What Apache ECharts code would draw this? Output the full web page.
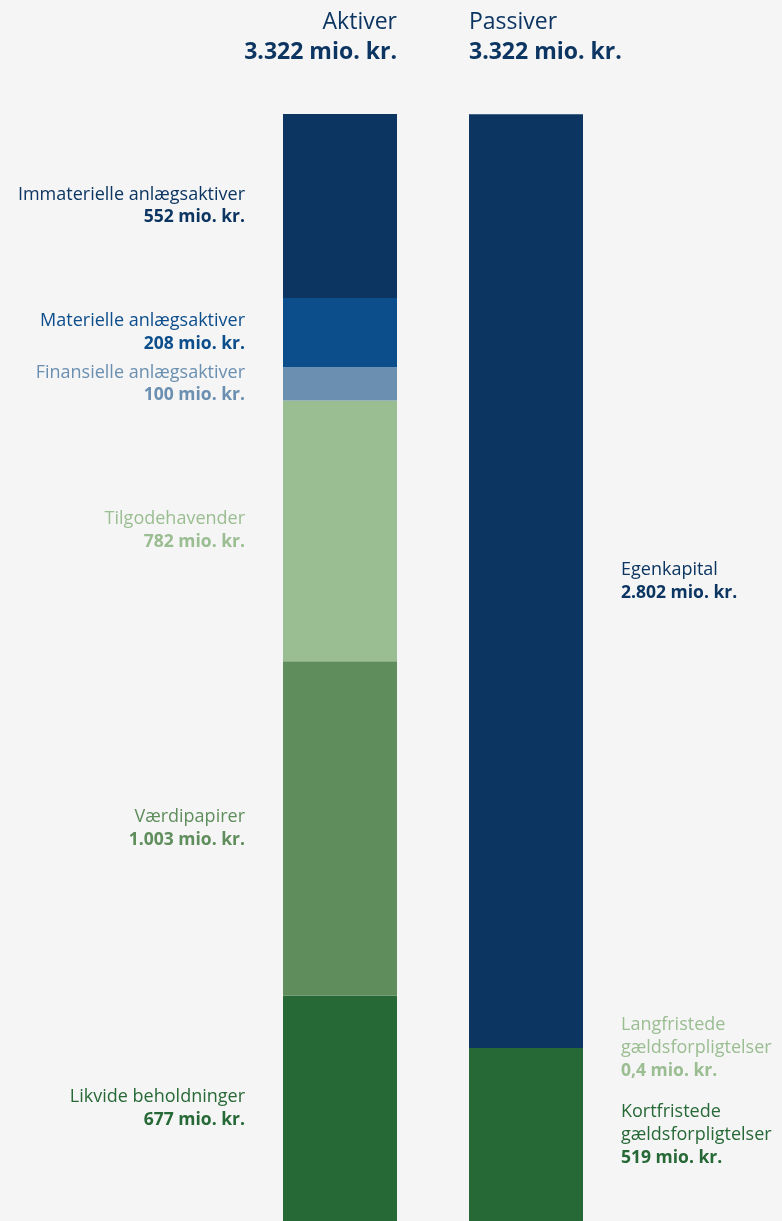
<!DOCTYPE html>
<html>
<head>
<meta charset="utf-8">
<script src="https://cdn.jsdelivr.net/npm/echarts@6/dist/echarts.min.js"></script>
<style>
html,body{margin:0;padding:0;background:#f5f5f5;}
#chart{width:782px;height:1221px;}
</style>
</head>
<body>
<div id="chart"></div>
<script>
const categories = ['Aktiver', 'Passiver'];
const totals = [3322, 3322];

// Aktiver, stacked bottom to top
const assetNames = ['Likvide beholdninger', 'Værdipapirer', 'Tilgodehavender', 'Finansielle anlægsaktiver', 'Materielle anlægsaktiver', 'Immaterielle anlægsaktiver'];
const assetValues = [677, 1003, 782, 100, 208, 552];
const assetColors = ['#266936', '#5f8d5c', '#9abd91', '#6a8fb0', '#0c4d8c', '#0c3562'];

// Passiver, stacked bottom to top
const liabNames = ['Kortfristede\ngældsforpligtelser', 'Langfristede\ngældsforpligtelser', 'Egenkapital'];
const liabValues = [519, 0.4, 2802];
const liabColors = ['#266936', '#9abd91', '#0c3562'];

const FONT = 'Open Sans';

function fmt(v) {
  let parts = String(v).split('.');
  let intPart = parts[0].replace(/\B(?=(\d{3})+(?!\d))/g, '.');
  return parts.length > 1 ? intPart + ',' + parts[1] : intPart;
}

function makeSeries(name, value, color, idx, side) {
  const data = side === 0 ? [value, '-'] : ['-', value];
  const lines = name.split('\n').map(l => '{n|' + l + '}').join('\n');
  return {
    name: name,
    type: 'bar',
    stack: 'total',
    barWidth: 114,
    data: data,
    itemStyle: { color: color },
    emphasis: { disabled: true },
    label: {
      show: true,
      position: side === 0 ? 'left' : 'right',
      distance: 38,
      align: side === 0 ? 'right' : 'left',
      formatter: function (p) {
        return lines + '\n{v|' + fmt(p.value) + ' mio. kr.}';
      },
      rich: {
        n: { fontFamily: FONT, fontSize: 18, color: color, lineHeight: 23, align: side === 0 ? 'right' : 'left' },
        v: { fontFamily: FONT, fontSize: 17.5, fontWeight: 'bold', color: color, lineHeight: 23, align: side === 0 ? 'right' : 'left' }
      }
    }
  };
}

const series = [];
assetNames.forEach((n, i) => series.push(makeSeries(n, assetValues[i], assetColors[i], i, 0)));
liabNames.forEach((n, i) => series.push(makeSeries(n, liabValues[i], liabColors[i], i, 1)));

const chart = echarts.init(document.getElementById('chart'));
chart.setOption({
  backgroundColor: '#f5f5f5',
  animation: false,
  grid: { left: 247, width: 372, top: 114, height: 1111 },
  xAxis: { type: 'category', data: categories, show: false },
  yAxis: { type: 'value', min: 0, max: totals[0], show: false },
  graphic: [
    { type: 'text', x: 397, y: 22, style: { text: categories[0], textAlign: 'right', textVerticalAlign: 'middle', font: '23px "' + FONT + '"', fill: '#0c3562' } },
    { type: 'text', x: 397, y: 52, style: { text: fmt(totals[0]) + ' mio. kr.', textAlign: 'right', textVerticalAlign: 'middle', font: 'bold 23px "' + FONT + '"', fill: '#0c3562' } },
    { type: 'text', x: 469, y: 22, style: { text: categories[1], textAlign: 'left', textVerticalAlign: 'middle', font: '23px "' + FONT + '"', fill: '#0c3562' } },
    { type: 'text', x: 469, y: 52, style: { text: fmt(totals[1]) + ' mio. kr.', textAlign: 'left', textVerticalAlign: 'middle', font: 'bold 23px "' + FONT + '"', fill: '#0c3562' } }
  ],
  series: series
});
</script>
</body>
</html>
